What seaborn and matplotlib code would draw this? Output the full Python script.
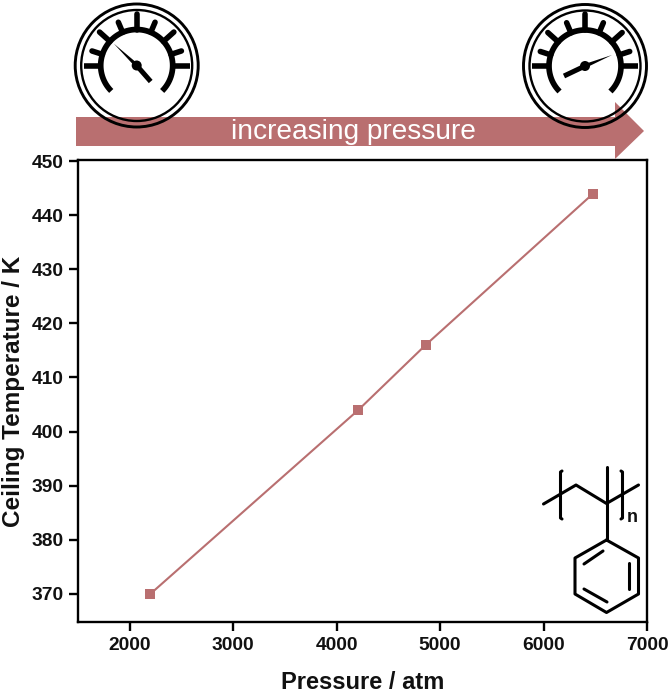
import numpy as np
import pandas as pd
import matplotlib
matplotlib.use("Agg")
import matplotlib.pyplot as plt
from matplotlib.patches import Circle, Polygon
import seaborn as sns

pressure = [2200, 4210, 4860, 6480]
ceiling_temp = [370, 404, 416, 444]
x_ticks = [2000, 3000, 4000, 5000, 6000, 7000]
y_ticks = [370, 380, 390, 400, 410, 420, 430, 440, 450]

ROSE = "#b96f70"
W, H = 672, 694

sns.set_theme(style="ticks")
plt.rcParams["font.family"] = ["Liberation Sans", "DejaVu Sans"]

fig = plt.figure(figsize=(W / 100, H / 100), dpi=100)
ax = fig.add_axes([78 / W, 1 - 622 / H, 569 / W, 462 / H])

df = pd.DataFrame({"pressure": pressure, "temp": ceiling_temp})
sns.lineplot(data=df, x="pressure", y="temp", ax=ax, color=ROSE, lw=1.5, marker="s",
             markersize=7.5, markeredgewidth=0, markerfacecolor=ROSE)
ax.set_xlim(1500, 7000)
ax.set_ylim(364.8, 450.2)
ax.set_xticks(x_ticks)
ax.set_yticks(y_ticks)
ax.tick_params(length=6.3, width=1.7, color="black", labelsize=13.8, pad=4.2)
for lab in ax.get_xticklabels() + ax.get_yticklabels():
    lab.set_fontweight("bold")
    lab.set_color("#111111")
for s in ax.spines.values():
    s.set_linewidth(1.7)
    s.set_color("black")
ax.set_xlabel("Pressure / atm", fontsize=17, fontweight="bold", color="#111111", labelpad=12.5)
ax.set_ylabel("Ceiling Temperature / K", fontsize=17.5, fontweight="bold", color="#111111", labelpad=4.5)

# overlay in pixel coordinates for the decorations
ov = fig.add_axes([0, 0, 1, 1], facecolor="none")
ov.set_xlim(0, W)
ov.set_ylim(H, 0)
ov.axis("off")

ov.add_patch(Polygon([(76, 117), (615, 117), (615, 102), (644, 131), (615, 159), (615, 146), (76, 146)],
                     closed=True, fc=ROSE, ec="none"))
ov.text(353, 132, "increasing pressure", color="white", fontsize=20.2, ha="center", va="center")


def gauge(cx, cy, tail, tip):
    ov.add_patch(Circle((cx, cy), 61.5, fc="none", ec="black", lw=2.1))
    ov.add_patch(Circle((cx, cy), 55.5, fc="none", ec="black", lw=1.7))
    t = np.radians(np.linspace(-45, 225, 80))
    ov.plot(cx + 36 * np.cos(t), cy - 36 * np.sin(t), color="black", lw=4.1, solid_capstyle="butt")
    angles = [0, 18, 42, 67, 90, 113, 138, 162, 180]
    reach = [53, 47, 50, 47, 52, 47, 50, 47, 53]
    for deg, r_out in zip(angles, reach):
        a = np.radians(deg)
        ov.plot([cx + 36 * np.cos(a), cx + r_out * np.cos(a)], [cy - 36 * np.sin(a), cy - r_out * np.sin(a)],
                color="black", lw=4, solid_capstyle="round" if deg not in (0, 180) else "butt")
    # needle: thick tail, fine tip
    ov.plot([cx, cx + tail[0]], [cy, cy + tail[1]], color="black", lw=3.6, solid_capstyle="butt")
    nx, ny = tip
    n = np.hypot(nx, ny)
    px, py = -ny / n * 2, nx / n * 2
    ov.add_patch(Polygon([(cx + px, cy + py), (cx + nx, cy + ny), (cx - px, cy - py)], closed=True, fc="black", ec="none"))
    ov.add_patch(Circle((cx, cy), 5, fc="black", ec="none"))


gauge(136.7, 65.5, (14, 16), (-23, -22))
gauge(585, 66, (-21, 10), (27, -11))

# polymer structure
def bond(x, y, lw=2.2):
    ov.plot(x, y, color="black", lw=lw, solid_capstyle="round", solid_joinstyle="round")


bond([543.5, 576, 606.5, 638.5], [504, 485, 503.5, 485])
bond([606.5, 606.5], [467, 540])
ring_x = [606.5, 638.5, 638.5, 606.5, 575, 575, 606.5]
ring_y = [540, 558, 594, 612.5, 594, 558, 540]
bond(ring_x, ring_y)
bond([584, 603], [564, 551])
bond([629, 629], [563, 589])
bond([584, 607], [589, 602])
bond([562, 560.5, 560.5, 562], [471, 472, 518, 519])
bond([621, 622.5, 622.5, 621], [471, 472, 518, 519])
ov.text(632.5, 518, "n", fontsize=13, fontweight="bold", ha="center", va="center", color="#111111")

fig.savefig("out.png", dpi=100)
